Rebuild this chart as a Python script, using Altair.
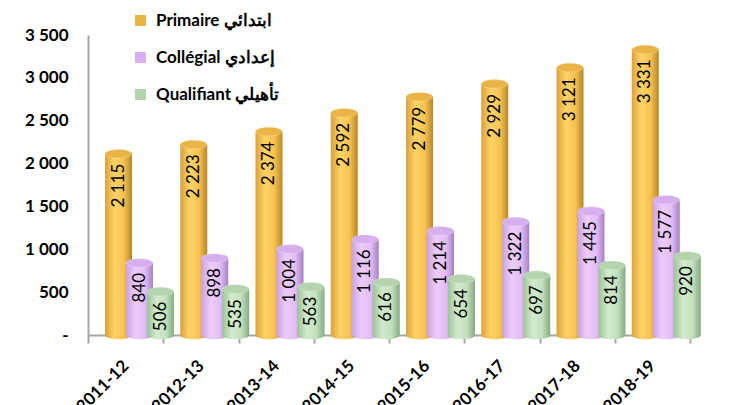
import altair as alt
import pandas as pd

years = ["2011-12", "2012-13", "2013-14", "2014-15", "2015-16", "2016-17", "2017-18", "2018-19"]
primaire = [2115, 2223, 2374, 2592, 2779, 2929, 3121, 3331]
collegial = [840, 898, 1004, 1116, 1214, 1322, 1445, 1577]
qualifiant = [506, 535, 563, 616, 654, 697, 814, 920]
series = ["Primaire ابتدائي", "Collégial إعدادي", "Qualifiant تأهيلي"]
y_ticks = [0, 500, 1000, 1500, 2000, 2500, 3000, 3500]

rows = []
for s, vals in zip(series, [primaire, collegial, qualifiant]):
    for yr, v in zip(years, vals):
        rows.append({"year": yr, "series": s, "value": v})
df = pd.DataFrame(rows)

FONT = "Lato"
BAR_W = 27

def grad(c_edge_l, c_mid, c_light, c_edge_r):
    return alt.Gradient(
        gradient="linear", x1=0, x2=1, y1=0, y2=0,
        stops=[alt.GradientStop(offset=0, color=c_edge_l),
               alt.GradientStop(offset=0.35, color=c_light),
               alt.GradientStop(offset=0.7, color=c_mid),
               alt.GradientStop(offset=1, color=c_edge_r)])

grads = {
    series[0]: grad("#D9A23C", "#F7C251", "#FFD368", "#B88628"),
    series[1]: grad("#C9A2E2", "#E3BDF5", "#ECCCFB", "#A880C4"),
    series[2]: grad("#9CC497", "#C3E0BD", "#D2EACD", "#86AB82"),
}
top_colors = ["#EAB447", "#D7AEEE", "#B3D4AD"]

x_enc = alt.X("year:N", sort=years, title=None,
              scale=alt.Scale(paddingInner=0, paddingOuter=0),
              axis=alt.Axis(labelAngle=-45, labelAlign="right", labelBaseline="middle",
                            labelFont=FONT, labelFontWeight="bold", labelFontSize=17,
                            labelColor="#000000", labelPadding=20, labelOffset=0,
                            tickBand="extent", tickSize=8, tickColor="#A6A6A6", tickWidth=2,
                            domainColor="#A6A6A6", domainWidth=2))
xo_enc = alt.XOffset("series:N", sort=series, scale=alt.Scale(range=[20, 83], paddingInner=0, paddingOuter=0))
y_enc = alt.Y("value:Q", title=None,
              scale=alt.Scale(domain=[0, 3500], nice=False),
              axis=alt.Axis(values=y_ticks, grid=False, ticks=False,
                            labelExpr="datum.value == 0 ? '-' : replace(format(datum.value, ','), ',', ' ')",
                            labelFont=FONT, labelFontWeight="bold", labelFontSize=17,
                            labelColor="#000000", labelPadding=20,
                            domainColor="#A6A6A6", domainWidth=2))

base = alt.Chart(df)
ellipse = "M-1,0A1,0.32,0,1,0,1,0A1,0.32,0,1,0,-1,0Z"

layers = []
for s in series:
    sub = base.transform_filter(alt.datum.series == s)
    layers.append(sub.mark_point(shape=ellipse, filled=True, size=BAR_W * BAR_W,
                                 color=grads[s], opacity=1)
                  .encode(x=x_enc, xOffset=xo_enc, y=alt.Y("zero:Q", scale=alt.Scale(domain=[0, 3500], nice=False)))
                  .transform_calculate(zero="0"))
    layers.append(sub.mark_bar(width=BAR_W, color=grads[s])
                  .encode(x=x_enc, xOffset=xo_enc, y=y_enc))

tops = base.mark_point(shape=ellipse, filled=True, size=BAR_W * BAR_W, opacity=1,
                       stroke="#ffffff", strokeOpacity=0.35, strokeWidth=0.6).encode(
    x=x_enc, xOffset=xo_enc, y=alt.Y("value:Q"),
    color=alt.Color("series:N", sort=series,
                    scale=alt.Scale(domain=series, range=top_colors),
                    legend=alt.Legend(title=None, orient="none", legendX=44, legendY=-23,
                                      symbolType="square", symbolSize=120, symbolStrokeWidth=0,
                                      labelFont=FONT, labelFontWeight="bold", labelFontSize=17,
                                      labelColor="#000000", rowPadding=19, labelOffset=7)),
)
layers.append(tops)

labels = base.transform_calculate(
    lab="replace(format(datum.value, ','), ',', ' ')"
).mark_text(angle=270, align="right", baseline="middle", dx=-10,
            font=FONT, fontSize=17, color="#000000").encode(
    x=x_enc, xOffset=xo_enc, y=alt.Y("value:Q"), text="lab:N")
layers.append(labels)

chart = alt.layer(*layers).properties(
    width=602, height=300,
    autosize=alt.AutoSizeParams(type="none"),
    padding={"left": 80, "top": 27, "right": 30, "bottom": 70},
).configure_view(stroke=None)

chart.save("out.html", embed_options={"renderer": "svg", "actions": False})
